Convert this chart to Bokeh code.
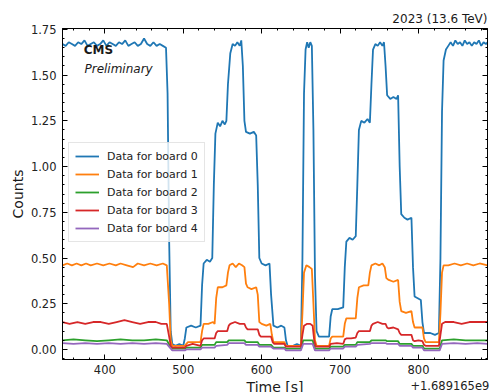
from bokeh.plotting import figure
from bokeh.models import (Range1d, LinearAxis, FixedTicker, PrintfTickFormatter, Label, Legend,
                          LegendItem, CustomLabelingPolicy)
from bokeh.embed import file_html
from bokeh.resources import INLINE

FONT = "DejaVu Sans"
TIME_OFFSET_LABEL = "+1.689165e9"

# (time [s] relative to 1.689165e9, counts)
BOARD0 = [(346,1.67),(350,1.66),(354,1.68),(358,1.67),(362,1.66),(366,1.68),(370,1.67),(374,1.69),(378,1.66),
          (382,1.67),(386,1.68),(390,1.66),(394,1.67),(398,1.69),(402,1.66),(406,1.68),(410,1.67),(414,1.66),
          (418,1.68),(422,1.67),(426,1.69),(430,1.66),(434,1.67),(438,1.68),(442,1.66),(446,1.67),(450,1.70),
          (454,1.67),(458,1.66),(462,1.68),(466,1.66),(470,1.67),(474,1.66),(478,1.65),
          (480,1.40),(482,0.60),(484,0.10),(486,0.03),(490,0.02),(495,0.03),(500,0.02),
          (502,0.06),(504,0.12),(510,0.13),(516,0.12),(522,0.13),
          (524,0.35),(526,0.47),(530,0.49),(534,0.48),(537,0.50),
          (539,0.90),(541,1.18),(544,1.24),(547,1.22),(550,1.25),(553,1.23),(555,1.25),
          (557,1.45),(560,1.62),(563,1.67),(566,1.66),(569,1.68),(572,1.66),(574,1.69),
          (576,1.55),(578,1.25),(580,1.19),(585,1.18),(590,1.19),(593,1.17),
          (595,0.90),(597,0.50),(600,0.47),(605,0.46),(610,0.47),
          (612,0.30),(615,0.13),(620,0.12),(625,0.13),(629,0.12),
          (631,0.05),(633,0.02),(640,0.02),(645,0.03),(650,0.02),
          (652,0.50),(654,1.40),(656,1.64),(658,1.68),(660,1.65),(662,1.68),(664,1.66),
          (666,1.20),(668,0.40),(670,0.10),(673,0.07),(680,0.07),(686,0.07),
          (688,0.18),(690,0.22),(697,0.22),(704,0.23),
          (706,0.45),(708,0.59),(712,0.61),(716,0.60),(720,0.62),
          (722,0.90),(724,1.20),(727,1.25),(731,1.24),(735,1.26),(738,1.24),
          (740,1.45),(742,1.64),(745,1.67),(748,1.66),(751,1.68),(754,1.66),(756,1.68),
          (758,1.55),(760,1.39),(764,1.37),(768,1.38),(772,1.37),(774,1.39),
          (776,1.00),(778,0.74),(782,0.72),(786,0.71),(791,0.72),
          (793,0.45),(795,0.29),(799,0.28),(803,0.27),
          (805,0.15),(807,0.09),(815,0.09),(821,0.08),(826,0.09),
          (828,0.50),(830,1.30),(832,1.58),(835,1.64),(838,1.66),(841,1.68),(844,1.66),(847,1.69),
          (850,1.67),(853,1.68),(856,1.66),(859,1.69),(862,1.67),(865,1.68),(868,1.66),(871,1.68),
          (874,1.67),(877,1.69),(880,1.66),(883,1.68),(886,1.67),(888,1.68)]

BOARD1 = [(346,0.46),(352,0.47),(358,0.46),(364,0.47),(370,0.46),(376,0.47),(382,0.46),(390,0.47),
          (398,0.46),(406,0.47),(414,0.46),(420,0.47),(428,0.46),(436,0.45),(442,0.47),(450,0.46),
          (458,0.47),(466,0.46),(474,0.47),(479,0.46),
          (482,0.25),(484,0.05),(486,0.02),(495,0.02),(502,0.02),
          (504,0.03),(506,0.04),(514,0.04),(522,0.04),
          (524,0.10),(526,0.14),(532,0.14),(538,0.15),(540,0.14),
          (542,0.28),(544,0.34),(550,0.34),(555,0.35),
          (557,0.42),(559,0.46),(563,0.47),(567,0.45),(571,0.47),(575,0.46),(578,0.45),
          (580,0.36),(582,0.34),(587,0.33),(593,0.34),
          (595,0.30),(597,0.15),(600,0.14),(606,0.13),(611,0.14),
          (613,0.08),(615,0.04),(622,0.04),(629,0.04),
          (631,0.02),(640,0.02),(650,0.02),
          (652,0.20),(654,0.42),(657,0.46),(661,0.45),(664,0.44),
          (666,0.25),(668,0.05),(670,0.02),(678,0.02),(686,0.02),
          (688,0.06),(690,0.07),(697,0.07),(704,0.07),
          (706,0.14),(708,0.17),(714,0.17),(720,0.17),
          (722,0.28),(724,0.34),(730,0.35),(736,0.35),
          (738,0.42),(740,0.46),(745,0.47),(750,0.46),(754,0.47),(757,0.45),
          (759,0.39),(762,0.38),(768,0.37),(774,0.38),
          (776,0.26),(778,0.21),(784,0.20),(791,0.21),
          (793,0.15),(795,0.12),(800,0.12),(805,0.12),
          (807,0.06),(809,0.04),(818,0.04),(826,0.04),
          (828,0.20),(830,0.42),(832,0.46),(838,0.46),(846,0.47),(854,0.46),(862,0.47),(870,0.46),
          (878,0.47),(888,0.46)]

BOARD2 = [(346,0.05),(360,0.055),(375,0.05),(390,0.045),(405,0.05),(420,0.055),(435,0.05),(450,0.05),
          (465,0.055),(479,0.05),(483,0.02),(486,0.005),(502,0.005),(504,0.01),(522,0.01),(524,0.025),
          (540,0.025),(542,0.04),(556,0.04),(558,0.05),(578,0.05),(580,0.04),(595,0.04),(597,0.025),
          (612,0.025),(615,0.01),(629,0.01),(631,0.005),(650,0.005),(653,0.05),(665,0.05),(668,0.005),
          (686,0.005),(688,0.015),(704,0.015),(706,0.025),(720,0.025),(722,0.04),(738,0.04),(740,0.05),
          (758,0.05),(760,0.045),(774,0.045),(776,0.03),(791,0.03),(793,0.02),(805,0.02),(807,0.005),
          (827,0.005),(830,0.05),(845,0.055),(860,0.05),(875,0.05),(888,0.05)]

BOARD3 = [(346,0.15),(355,0.14),(365,0.15),(375,0.14),(385,0.15),(395,0.15),(405,0.14),(415,0.15),
          (425,0.16),(435,0.15),(445,0.14),(455,0.15),(465,0.15),(472,0.14),(479,0.14),
          (482,0.07),(484,0.02),(486,0.01),(495,0.01),(502,0.01),
          (504,0.02),(512,0.03),(522,0.02),
          (524,0.05),(526,0.06),(533,0.06),(540,0.06),
          (542,0.09),(544,0.10),(550,0.10),(556,0.10),
          (558,0.13),(560,0.14),(566,0.15),(572,0.14),(578,0.14),
          (580,0.12),(582,0.11),(588,0.11),(595,0.11),
          (597,0.08),(599,0.07),(605,0.07),(612,0.07),
          (614,0.04),(616,0.03),(622,0.03),(629,0.03),
          (631,0.015),(640,0.015),(650,0.015),
          (652,0.08),(654,0.13),(658,0.14),(662,0.14),(665,0.13),
          (667,0.05),(669,0.015),(678,0.015),(686,0.015),
          (688,0.03),(696,0.035),(704,0.03),
          (706,0.055),(708,0.06),(714,0.06),(720,0.065),
          (722,0.09),(724,0.10),(731,0.10),(738,0.10),
          (740,0.13),(742,0.14),(748,0.15),(754,0.14),(758,0.14),
          (760,0.12),(762,0.115),(768,0.12),(774,0.11),
          (776,0.09),(778,0.08),(785,0.08),(791,0.08),
          (793,0.05),(795,0.045),(800,0.05),(805,0.045),
          (807,0.025),(809,0.02),(818,0.02),(826,0.02),
          (828,0.08),(830,0.14),(834,0.15),(845,0.15),(855,0.14),(865,0.15),(875,0.15),(888,0.15)]

BOARD4 = [(346,0.035),(360,0.03),(375,0.035),(390,0.03),(405,0.035),(420,0.03),(435,0.035),(450,0.03),
          (465,0.035),(479,0.03),(483,0.01),(486,-0.005),(502,-0.005),(504,0.0),(522,0.0),(524,0.01),
          (540,0.01),(542,0.02),(556,0.025),(558,0.035),(578,0.035),(580,0.025),(595,0.025),(597,0.015),
          (612,0.015),(615,0.005),(629,0.005),(631,-0.005),(650,-0.005),(653,0.03),(665,0.03),(668,-0.005),
          (686,-0.005),(688,0.005),(704,0.005),(706,0.015),(720,0.015),(722,0.025),(738,0.03),(740,0.035),
          (758,0.035),(760,0.03),(774,0.03),(776,0.02),(791,0.02),(793,0.01),(805,0.01),(807,-0.005),
          (827,-0.005),(830,0.03),(845,0.035),(860,0.03),(875,0.035),(888,0.03)]

SERIES = [("Data for board 0", BOARD0, "#1f77b4"),
          ("Data for board 1", BOARD1, "#ff7f0e"),
          ("Data for board 2", BOARD2, "#2ca02c"),
          ("Data for board 3", BOARD3, "#d62728"),
          ("Data for board 4", BOARD4, "#9467bd")]

X_TICKS = [400, 500, 600, 700, 800]
X_OFFSET_TICK = 840
Y_TICKS = [0.0, 0.25, 0.5, 0.75, 1.0, 1.25, 1.5, 1.75]
X_MINOR = [340 + 20 * i for i in range(28)]
Y_MINOR = [round(-0.05 + 0.05 * i, 2) for i in range(37)]

p = figure(width=491, height=404, output_backend="svg", toolbar_location=None,
           x_range=Range1d(346, 888), y_range=Range1d(-0.055, 1.755),
           min_border_left=62, min_border_right=4, min_border_top=28, min_border_bottom=45)
p.xgrid.visible = False
p.ygrid.visible = False
p.outline_line_color = "black"
p.outline_line_width = 1
p.background_fill_color = "white"
p.border_fill_color = "white"

renderers = []
for name, data, color in SERIES:
    xs = [d[0] for d in data]
    ys = [d[1] for d in data]
    r = p.line(xs, ys, line_color=color, line_width=1.8)
    renderers.append((name, r))

HIDE_LABELS = "for (const i of indices) { indices.unset(i) }\nreturn indices"

def style_axis(ax, ticks, minor, show_labels, standoff):
    ax.ticker = FixedTicker(ticks=ticks, minor_ticks=minor)
    ax.axis_line_color = "black"
    ax.major_tick_in = 5
    ax.major_tick_out = 0
    ax.minor_tick_in = 2
    ax.minor_tick_out = 0
    ax.major_tick_line_color = "black"
    ax.minor_tick_line_color = "black"
    ax.major_label_standoff = standoff
    ax.major_label_text_font = FONT
    ax.major_label_text_color = "#222222"
    if show_labels:
        ax.major_label_text_font_size = "11.5px"
    else:
        ax.major_label_text_font_size = "0px"
        ax.major_label_policy = CustomLabelingPolicy(code=HIDE_LABELS)

xa = p.xaxis[0]
ya = p.yaxis[0]
style_axis(xa, X_TICKS + [X_OFFSET_TICK], X_MINOR, True, 3)
xa.major_label_overrides = {X_OFFSET_TICK: "\n" + TIME_OFFSET_LABEL}
xa.axis_label = "Time [s]"
xa.axis_label_standoff = -17
xa.axis_label_text_font = FONT
xa.axis_label_text_font_size = "14px"
xa.axis_label_text_font_style = "normal"
xa.axis_label_text_color = "#1a1a1a"

style_axis(ya, Y_TICKS, Y_MINOR, True, 6)
ya.formatter = PrintfTickFormatter(format="%.2f")
ya.axis_label = "Counts"
ya.axis_label_standoff = 2
ya.axis_label_text_font = FONT
ya.axis_label_text_font_size = "14px"
ya.axis_label_text_font_style = "normal"
ya.axis_label_text_color = "#1a1a1a"

top = LinearAxis()
style_axis(top, X_TICKS, X_MINOR, False, 0)
p.add_layout(top, "above")
right = LinearAxis()
style_axis(right, Y_TICKS, Y_MINOR, False, 0)
p.add_layout(right, "right")

p.title.text = "2023 (13.6 TeV)"
p.title.align = "right"
p.title.text_font = FONT
p.title.text_font_size = "12px"
p.title.text_font_style = "normal"
p.title.text_color = "#1a1a1a"
p.title.standoff = 6

legend = Legend(items=[LegendItem(label=n, renderers=[r]) for n, r in renderers],
                location=(6, 117))
legend.label_text_font = FONT
legend.label_text_font_size = "11px"
legend.label_text_color = "#222222"
legend.label_height = 14
legend.glyph_height = 14
legend.glyph_width = 24
legend.label_standoff = 8
legend.spacing = 4
legend.padding = 6
legend.margin = 0
legend.border_line_color = "#cccccc"
legend.border_line_width = 1
legend.background_fill_alpha = 0.8
p.add_layout(legend)

def add_label(x, y, text, size, style="normal"):
    p.add_layout(Label(x=x, y=y, text=text, text_font=FONT, text_font_size=size,
                       text_font_style=style, text_align="left", text_baseline="middle",
                       text_color="#1a1a1a"))

add_label(373, 1.640, "CMS", "12px", style="bold")
add_label(374, 1.531, "Preliminary", "12px", style="italic")

template = "{% block preamble %}<style>html, body { overflow: hidden; }</style>{% endblock %}"
open("out.html", "w").write(file_html(p, INLINE, template=template))
